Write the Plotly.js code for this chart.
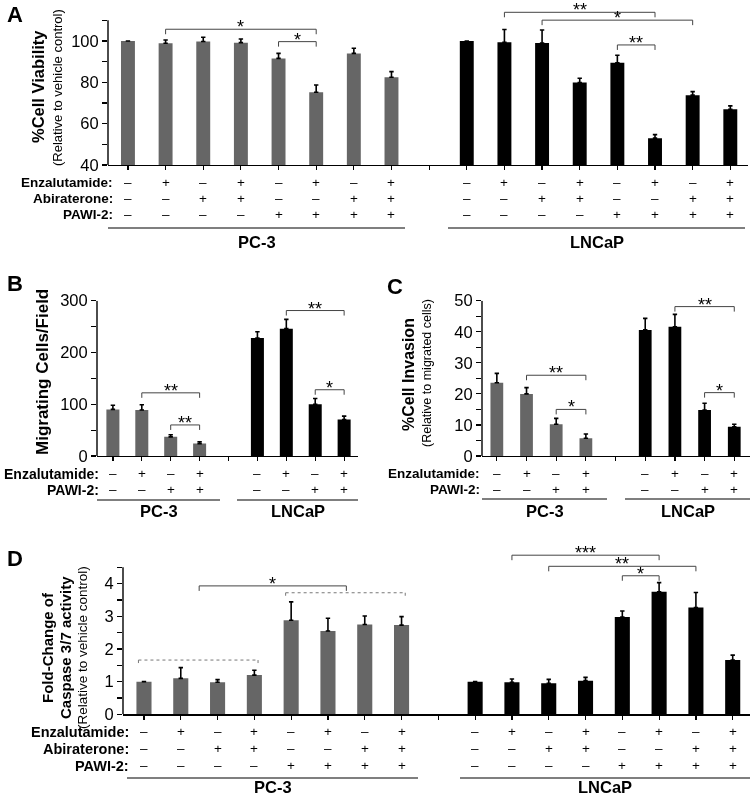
<!DOCTYPE html>
<html><head><meta charset="utf-8">
<script src="https://cdn.plot.ly/plotly-3.0.1.min.js"></script>
<style>html,body{margin:0;padding:0;background:#fff}#chart{width:753px;height:797px;filter:grayscale(100%)}</style>
</head><body><div id="chart"></div>
<script>
// ================= DATA =================
const cellLines = ['PC-3', 'LNCaP'];
const rowNames3 = ['Enzalutamide:', 'Abiraterone:', 'PAWI-2:'];
const rowNames2 = ['Enzalutamide:', 'PAWI-2:'];
const enzalutamide8 = [0, 1, 0, 1, 0, 1, 0, 1];
const abiraterone8  = [0, 0, 1, 1, 0, 0, 1, 1];
const pawi8         = [0, 0, 0, 0, 1, 1, 1, 1];
const enzalutamide4 = [0, 1, 0, 1];
const pawi4         = [0, 0, 1, 1];

// A: % cell viability
const viabilityPC3      = [100, 98.9, 99.8, 99.2, 91.6, 75.2, 94.0, 82.5];
const viabilityPC3Err   = [null, 1.6, 2.0, 1.8, 2.4, 3.5, 2.5, 2.7];
const viabilityLNCaP    = [100, 99.4, 99.0, 79.9, 89.5, 53.0, 73.8, 67.0];
const viabilityLNCaPErr = [null, 6.2, 6.3, 2.1, 3.6, 1.7, 1.7, 1.6];
// B: migrating cells / field
const migrationPC3      = [90, 89, 37, 24];
const migrationPC3Err   = [8, 10, 4, 3.5];
const migrationLNCaP    = [228, 246, 100, 70.5];
const migrationLNCaPErr = [12, 18, 11, 6.5];
// C: % cell invasion
const invasionPC3       = [23.6, 20.0, 10.2, 5.7];
const invasionPC3Err    = [3.0, 2.0, 1.9, 1.4];
const invasionLNCaP     = [40.6, 41.6, 14.8, 9.4];
const invasionLNCaPErr  = [3.7, 4.0, 2.2, 0.8];
// D: caspase 3/7 fold change
const caspasePC3        = [1.0, 1.1, 0.98, 1.2, 2.88, 2.55, 2.75, 2.73];
const caspasePC3Err     = [null, 0.33, 0.08, 0.15, 0.56, 0.39, 0.26, 0.26];
const caspaseLNCaP      = [1.0, 0.98, 0.95, 1.03, 2.98, 3.75, 3.27, 1.66];
const caspaseLNCaPErr   = [null, 0.10, 0.12, 0.10, 0.18, 0.28, 0.46, 0.15];

// significance comparisons: [cell line index, bar i, bar j, bracket level, label]
const sigA = [[0,1,5,105.7,'*'],[0,4,5,99.7,'*'],[1,1,5,113.9,'**'],[1,2,6,110.1,'*'],[1,4,5,98.1,'**']];
const sigB = [[0,1,3,122,'**'],[0,2,3,60,'**'],[1,1,3,281,'**'],[1,2,3,128,'*']];
const sigC = [[0,1,3,26,'**'],[0,2,3,15,'*'],[1,1,3,48.1,'**'],[1,2,3,20.4,'*']];
const sigD = [[1,1,5,4.87,'***'],[1,2,6,4.53,'**'],[1,4,5,4.24,'*']];
// D group comparison (PC-3): dotted groups [first bar, last bar, level], then solid bracket between group centres
const groupsD = [[0,3,1.66],[4,7,3.72]];
const groupSigD = [3.93, '*'];

// ================= LAYOUT HELPERS =================
const W = 753, H = 797;
const FONT = 'Liberation Sans, Arial, Helvetica, sans-serif';
const PC3_COLOR = '#666666', LN_COLOR = '#000000';
const px = v => v / W, py = v => 1 - v / H;

const panels = [
  { letter:'A', letterPos:[15,14], xa:'x', ya:'y', xpx:[108,748], ypx:[3,165], xr:[-0.53,16.47], yr:[40,118.4], ymax:110,
    ytick:10, ylab:20, barW:0.37, offset:9, n:8,
    pc3:viabilityPC3, pc3Err:viabilityPC3Err, ln:viabilityLNCaP, lnErr:viabilityLNCaPErr,
    rows:[enzalutamide8, abiraterone8, pawi8], rowNames:rowNames3, rowY:[182.5,198.3,214], labelRight:114, labelSize:13.5,
    lines:[[108,405],[448,745]], lineY:228, cellY:242, sig:sigA,
    titles:[{t:'<b>%Cell Viability</b>', x:38, y:87, s:16.5},{t:'(Relative to vehicle control)', x:57, y:88, s:13}] },
  { letter:'B', letterPos:[15,283], xa:'x2', ya:'y2', xpx:[97,358], ypx:[300.7,456], xr:[-0.55,8.48], yr:[0,300], ymax:300,
    ytick:50, ylab:100, barW:0.45, offset:5, n:4,
    pc3:migrationPC3, pc3Err:migrationPC3Err, ln:migrationLNCaP, lnErr:migrationLNCaPErr,
    rows:[enzalutamide4, pawi4], rowNames:rowNames2, rowY:[473.5,490], labelRight:100, labelSize:14,
    lines:[[97,220],[237,358]], lineY:500, cellY:511, sig:sigB,
    titles:[{t:'<b>Migrating Cells/Field</b>', x:42, y:372, s:17}] },
  { letter:'C', letterPos:[395,286], xa:'x3', ya:'y3', xpx:[482,750], ypx:[300.7,456], xr:[-0.5,8.53], yr:[0,50], ymax:50,
    ytick:5, ylab:10, barW:0.43, offset:5, n:4,
    pc3:invasionPC3, pc3Err:invasionPC3Err, ln:invasionLNCaP, lnErr:invasionLNCaPErr,
    rows:[enzalutamide4, pawi4], rowNames:rowNames2, rowY:[473.5,489.5], labelRight:481, labelSize:13.5,
    lines:[[482,607],[625,750]], lineY:499, cellY:511, sig:sigC,
    titles:[{t:'<b>%Cell Invasion</b>', x:408, y:375, s:16},{t:'(Relative to migrated cells)', x:427, y:373, s:12.5}] },
  { letter:'D', letterPos:[15,558], xa:'x4', ya:'y4', xpx:[123,750], ypx:[548,714.3], xr:[-0.57,16.47], yr:[0,5.09], ymax:4.5,
    ytick:0.5, ylab:1, barW:0.41, offset:9, n:8,
    pc3:caspasePC3, pc3Err:caspasePC3Err, ln:caspaseLNCaP, lnErr:caspaseLNCaPErr,
    rows:[enzalutamide8, abiraterone8, pawi8], rowNames:rowNames3, rowY:[731.5,748.5,765.5], labelRight:130, labelSize:14.5,
    lines:[[127,418],[460,750]], lineY:778, cellY:787, sig:sigD,
    titles:[{t:'<b>Fold-Change of</b>', x:47, y:648, s:15},{t:'<b>Caspase 3/7 activity</b>', x:65, y:648, s:15},{t:'(Relative to vehicle control)', x:82, y:648, s:13.5}] }
];

const traces = [], shapes = [], annotations = [];
const layout = {
  width: W, height: H, margin:{l:0,r:0,t:0,b:0}, paper_bgcolor:'#fff', plot_bgcolor:'#fff',
  showlegend:false, font:{family:FONT, color:'#000'}, barmode:'overlay'
};

panels.forEach((p, k) => {
  const sfx = k === 0 ? '' : String(k+1);
  const errBar = (arr) => ({ type:'data', symmetric:false, array:arr, arrayminus:arr.map(() => 0),
                             color:'#000', thickness:1.6, width:2.2, visible:true });
  const xsPC3 = p.pc3.map((_, i) => i);
  const xsLN = p.ln.map((_, i) => i + p.offset);
  traces.push({ type:'bar', x:xsPC3, y:p.pc3, width:p.barW, marker:{color:PC3_COLOR, line:{width:0}},
                error_y:errBar(p.pc3Err), xaxis:p.xa, yaxis:p.ya, hoverinfo:'skip' });
  traces.push({ type:'bar', x:xsLN, y:p.ln, width:p.barW, marker:{color:LN_COLOR, line:{width:0}},
                error_y:errBar(p.lnErr), xaxis:p.xa, yaxis:p.ya, hoverinfo:'skip' });

  const nTicks = p.offset + p.n;
  const xt = Array.from({length:nTicks}, (_, i) => i);
  const yt = [];
  for (let v = p.yr[0]; v <= p.ymax + 1e-9; v += p.ytick) yt.push(+v.toFixed(4));
  layout['xaxis'+sfx] = { domain:[px(p.xpx[0]), px(p.xpx[1])], range:p.xr, anchor:p.ya,
    showline:true, linecolor:'#000', linewidth:1.4, ticks:'outside', ticklen:4, tickwidth:1.2, tickcolor:'#000',
    tickvals:xt, ticktext:xt.map(() => ''), showgrid:false, zeroline:false, fixedrange:true };
  layout['yaxis'+sfx] = { domain:[py(p.ypx[1]), py(p.ypx[0])], range:p.yr, anchor:p.xa,
    showline:false, ticks:'outside', ticklen:5, tickwidth:1.2, tickcolor:'#000',
    tickvals:yt, ticktext:yt.map(v => (Math.abs((v - p.yr[0]) / p.ylab - Math.round((v - p.yr[0]) / p.ylab)) < 1e-6) ? String(v) : ''),
    tickfont:{family:FONT, size:16.5, color:'#000'}, showgrid:false, zeroline:false, fixedrange:true };
  // y axis line up to last tick
  shapes.push({ type:'line', xref:p.xa+' domain', yref:p.ya, x0:0, x1:0, y0:p.yr[0], y1:p.ymax, line:{color:'#000', width:1.4} });

  // panel letter
  annotations.push({ xref:'paper', yref:'paper', x:px(p.letterPos[0]), y:py(p.letterPos[1]), text:'<b>'+p.letter+'</b>',
    showarrow:false, xanchor:'center', yanchor:'middle', font:{size:22, family:FONT, color:'#000'} });
  // y titles
  p.titles.forEach(t => annotations.push({ xref:'paper', yref:'paper', x:px(t.x), y:py(t.y), text:t.t, textangle:-90,
    showarrow:false, xanchor:'center', yanchor:'middle', font:{size:t.s, family:FONT, color:'#000'} }));

  // treatment table
  p.rows.forEach((row, r) => {
    annotations.push({ xref:'paper', yref:'paper', x:px(p.labelRight), y:py(p.rowY[r]), text:'<b>'+p.rowNames[r]+'</b>',
      showarrow:false, xanchor:'right', yanchor:'middle', borderpad:0, font:{size:p.labelSize, family:FONT, color:'#000'} });
    [0, 1].forEach(c => row.forEach((on, i) => {
      annotations.push({ xref:p.xa, yref:'paper', x:i + (c ? p.offset : 0), y:py(p.rowY[r]), text:on ? '+' : '–',
        showarrow:false, xanchor:'center', yanchor:'middle', borderpad:0, font:{size:13.5, family:FONT, color:'#000'} });
    }));
  });
  p.lines.forEach((ln, c) => {
    shapes.push({ type:'line', xref:'paper', yref:'paper', x0:px(ln[0]), x1:px(ln[1]), y0:py(p.lineY), y1:py(p.lineY),
      line:{color:'#000', width:1.2} });
    annotations.push({ xref:'paper', yref:'paper', x:px((ln[0]+ln[1])/2), y:py(p.cellY), text:'<b>'+cellLines[c]+'</b>',
      showarrow:false, xanchor:'center', yanchor:'middle', borderpad:0, font:{size:16.5, family:FONT, color:'#000'} });
  });

  // significance brackets
  const bracket = (x0, x1, lev, label, dash, color) => {
    shapes.push({ type:'line', xref:p.xa, yref:p.ya, x0:x0, x1:x1, y0:lev, y1:lev, line:{color:color, width:1, dash:dash} });
    [x0, x1].forEach(xx => shapes.push({ type:'line', xref:p.xa, yref:p.ya, x0:xx, x1:xx, ysizemode:'pixel', yanchor:lev,
      y0:0, y1:-5, line:{color:color, width:1, dash:dash} }));
    if (label) annotations.push({ xref:p.xa, yref:p.ya, x:(x0+x1)/2, y:lev, text:label, showarrow:false,
      xanchor:'center', yanchor:'middle', yshift:2, borderpad:0, font:{size:18, family:FONT, color:'#000'} });
  };
  p.sig.forEach(s => {
    const off = s[0] ? p.offset : 0;
    bracket(s[1] + off, s[2] + off, s[3], s[4], 'solid', '#444');
  });
  if (p.letter === 'D') {
    groupsD.forEach(g => bracket(g[0] - 0.15, g[1] + 0.1, g[2], '', 'dot', '#777'));
    const c1 = (groupsD[0][0] + groupsD[0][1]) / 2, c2 = (groupsD[1][0] + groupsD[1][1]) / 2;
    bracket(c1, c2, groupSigD[0], groupSigD[1], 'solid', '#444');
  }
});

layout.shapes = shapes;
layout.annotations = annotations;
Plotly.newPlot('chart', traces, layout, {staticPlot:true, displayModeBar:false});
</script>
</body></html>
